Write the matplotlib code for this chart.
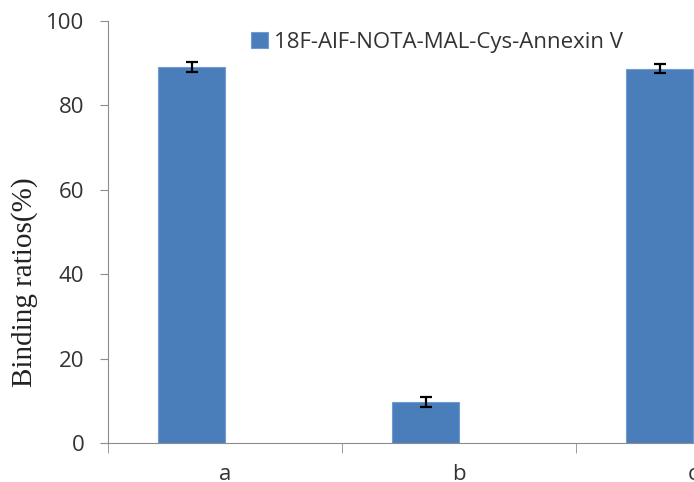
import matplotlib
matplotlib.use("Agg")
import matplotlib.pyplot as plt
import numpy as np

# data
groups = ["a", "b", "c"]
ratios = [89.2, 9.7, 88.7]
errors = [1.2, 1.1, 1.0]
series_name = "18F-AlF-NOTA-MAL-Cys-Annexin V"

plt.rcParams['font.family'] = ['Open Sans', 'DejaVu Sans']

fig = plt.figure(figsize=(6.94, 4.82), dpi=100)
# axes run past the right edge, like the cropped original
ax = fig.add_axes([108/694, 39/482, 702/694, 422/482])

x = np.arange(len(groups))
ax.bar(x - 0.143, ratios, width=0.286, color='#4a7ebb', edgecolor='#6f9bd1',
       linewidth=0.8, label=series_name,
       yerr=errors, capsize=4.5,
       error_kw=dict(ecolor='black', elinewidth=1.6, capthick=1.6))

ax.set_xlim(-0.5, 2.5)
ax.set_ylim(0, 100)
ax.set_yticks([0, 20, 40, 60, 80, 100])
ax.set_xticks(x)
ax.set_xticklabels(groups)
ax.set_xticks([-0.5, 0.5, 1.5, 2.5], minor=True)

for s in ['top', 'right']:
    ax.spines[s].set_visible(False)
for s in ['left', 'bottom']:
    ax.spines[s].set_color('#8c8c8c')

ax.tick_params(axis='y', length=6, color='#8c8c8c', labelsize=16,
               labelcolor='#333333', pad=11)
ax.tick_params(axis='x', which='major', length=0, labelsize=16,
               labelcolor='#333333', pad=15)
ax.tick_params(axis='x', which='minor', length=7, color='#8c8c8c')

fig.text(25/694, 1 - 282/482, "Binding ratios(%)", rotation=90,
         family='Liberation Serif', fontsize=21, ha='center', va='center',
         color='#222222')

ax.legend(loc='upper left', bbox_to_anchor=(251/694, 1 - 32/482),
          bbox_transform=fig.transFigure, frameon=False, fontsize=16,
          handlelength=0.75, handleheight=0.75, handletextpad=0.3,
          borderaxespad=0, borderpad=0, labelcolor='#333333')

fig.savefig("out.png", dpi=100)
